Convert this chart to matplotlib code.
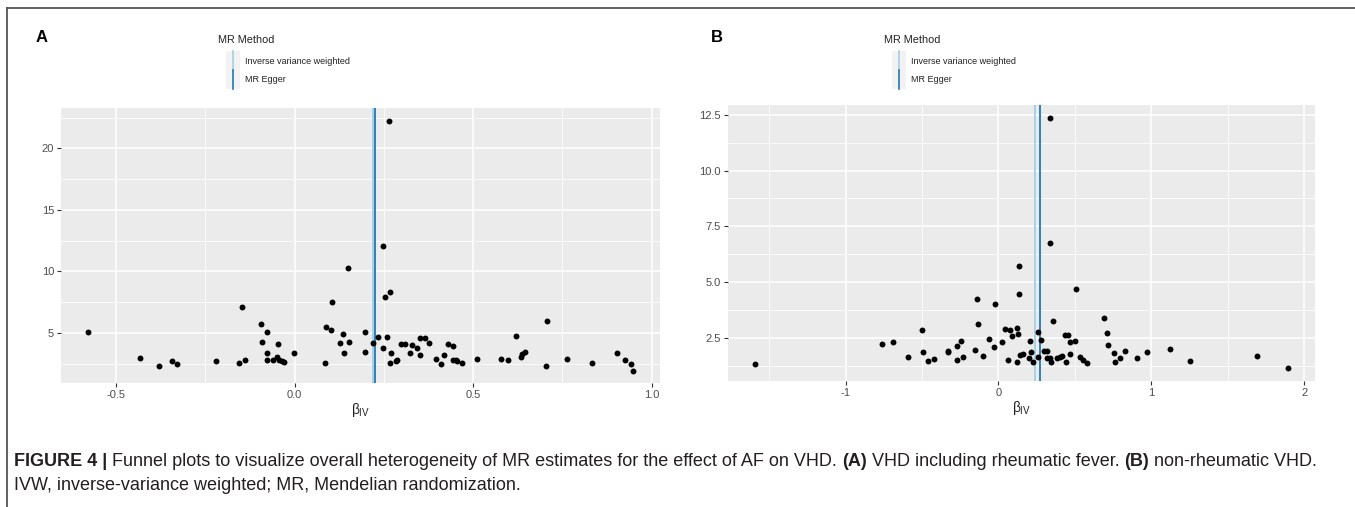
import matplotlib
matplotlib.use("Agg")
import matplotlib.pyplot as plt
from matplotlib.patches import Rectangle
from matplotlib.lines import Line2D

plt.rcParams['font.family'] = ['Liberation Sans', 'DejaVu Sans']
plt.rcParams['mathtext.fontset'] = 'custom'
plt.rcParams['mathtext.rm'] = 'Liberation Sans'
plt.rcParams['mathtext.it'] = 'Liberation Sans'

# panel A: VHD including rheumatic fever
beta_a = [-0.578, -0.434, -0.381, -0.344, -0.329, -0.220, -0.155, -0.147, -0.138, -0.095,
          -0.090, -0.076, -0.077, -0.076, -0.061, -0.046, -0.049, -0.045, -0.035, -0.029,
          -0.001, 0.087, 0.086, 0.103, 0.106, 0.127, 0.136, 0.139, 0.152, 0.196,
          0.196, 0.220, 0.233, 0.247, 0.260, 0.267, 0.271, 0.284, 0.287, 0.297,
          0.308, 0.324, 0.330, 0.342, 0.350, 0.351, 0.366, 0.375, 0.396, 0.410,
          0.418, 0.429, 0.443, 0.444, 0.452, 0.455, 0.469, 0.510, 0.579, 0.598,
          0.620, 0.633, 0.637, 0.644, 0.704, 0.708, 0.762, 0.834, 0.903, 0.925,
          0.943, 0.947, 0.265, 0.247, 0.149, 0.252, 0.268]
prec_a = [5.05, 2.96, 2.29, 2.69, 2.47, 2.72, 2.58, 7.07, 2.77, 5.73,
          4.22, 5.08, 3.33, 2.82, 2.77, 4.11, 3.04, 2.80, 2.74, 2.61,
          3.33, 5.51, 2.58, 5.22, 7.50, 4.14, 4.89, 3.33, 4.27, 5.03,
          3.47, 4.17, 4.70, 3.74, 4.70, 2.53, 3.39, 2.69, 2.77, 4.11,
          4.11, 3.33, 3.98, 3.79, 4.57, 3.20, 4.57, 4.17, 2.90, 2.50,
          3.20, 4.11, 3.90, 2.80, 2.80, 2.72, 2.53, 2.90, 2.90, 2.77,
          4.78, 3.06, 3.25, 3.47, 2.34, 6.00, 2.88, 2.53, 3.33, 2.77,
          2.50, 1.94, 22.26, 12.04, 10.24, 7.93, 8.28]
ivw_a, egger_a = 0.220, 0.224

# panel B: non-rheumatic VHD
beta_b = [-1.594, -0.763, -0.687, -0.589, -0.499, -0.490, -0.462, -0.423, -0.332, -0.330,
          -0.268, -0.270, -0.245, -0.234, -0.152, -0.135, -0.104, -0.059, -0.031, -0.022,
          0.025, 0.045, 0.062, 0.076, 0.090, 0.124, 0.127, 0.121, 0.138, 0.158,
          0.208, 0.214, 0.200, 0.223, 0.256, 0.256, 0.276, 0.296, 0.315, 0.321,
          0.338, 0.344, 0.358, 0.380, 0.406, 0.414, 0.434, 0.442, 0.454, 0.465,
          0.468, 0.504, 0.535, 0.555, 0.580, 0.693, 0.710, 0.718, 0.758, 0.761,
          0.792, 0.825, 0.904, 0.972, 1.124, 1.251, 1.690, 1.896, -0.140, 0.132,
          0.136, 0.340, 0.340, 0.509]
prec_b = [1.34, 2.25, 2.35, 1.64, 2.87, 1.90, 1.49, 1.58, 1.87, 1.93,
          2.16, 1.52, 2.37, 1.64, 1.99, 3.13, 1.71, 2.47, 2.13, 4.03,
          2.35, 2.90, 1.53, 2.87, 2.62, 2.98, 2.69, 1.43, 1.73, 1.80,
          2.38, 1.90, 1.62, 1.46, 2.80, 1.64, 2.41, 1.93, 1.93, 1.61,
          1.62, 1.43, 3.26, 1.61, 1.64, 1.70, 2.66, 1.46, 2.65, 2.35,
          1.80, 2.37, 1.64, 1.53, 1.40, 3.42, 2.75, 2.22, 1.86, 1.46,
          1.62, 1.92, 1.62, 1.90, 2.02, 1.49, 1.70, 1.15, 4.24, 4.50,
          5.73, 12.37, 6.77, 4.69]
ivw_b, egger_b = 0.242, 0.271

xticks_a = [-0.5, 0.0, 0.5, 1.0]
xlabels_a = ["-0.5", "0.0", "0.5", "1.0"]
yticks_a = [5, 10, 15, 20]
ylabels_a = ["5", "10", "15", "20"]
xticks_b = [-1, 0, 1, 2]
xlabels_b = ["-1", "0", "1", "2"]
yticks_b = [2.5, 5.0, 7.5, 10.0, 12.5]
ylabels_b = ["2.5", "5.0", "7.5", "10.0", "12.5"]

methods = ["Inverse variance weighted", "MR Egger"]
method_colors = ["#a6cee3", "#1f78b4"]

W, H = 1355, 507
fig = plt.figure(figsize=(W / 100, H / 100), dpi=100)


def px(x, y):
    return x / W, 1 - y / H


def funnel(rect, beta, prec, ivw, egger, xt, xl, yt, yl):
    l, t, r, b = rect
    ax = fig.add_axes([l / W, 1 - b / H, (r - l) / W, (b - t) / H])
    ax.set_facecolor("#EBEBEB")
    for s in ax.spines.values():
        s.set_visible(False)
    ax.scatter(beta, prec, s=18, color="black", zorder=3, linewidths=0)
    ax.margins(x=0.05, y=0.05)
    xlim, ylim = ax.get_xlim(), ax.get_ylim()
    ax.axvline(ivw, color=method_colors[0], lw=1.3, zorder=2)
    ax.axvline(egger, color=method_colors[1], lw=1.3, zorder=2)
    ax.set_xticks(xt)
    ax.set_xticklabels(xl)
    ax.set_yticks(yt)
    ax.set_yticklabels(yl)
    mx = [(a + b2) / 2 for a, b2 in zip(xt[:-1], xt[1:])]
    mx = [xt[0] - (xt[1] - xt[0]) / 2] + mx + [xt[-1] + (xt[1] - xt[0]) / 2]
    my = [(a + b2) / 2 for a, b2 in zip(yt[:-1], yt[1:])]
    my = [yt[0] - (yt[1] - yt[0]) / 2] + my + [yt[-1] + (yt[1] - yt[0]) / 2]
    ax.set_xticks(mx, minor=True)
    ax.set_yticks(my, minor=True)
    ax.set_xlim(xlim)
    ax.set_ylim(ylim)
    ax.tick_params(which="minor", length=0)
    ax.tick_params(which="major", length=3, width=0.8, color="#333333",
                   labelsize=8, labelcolor="#4D4D4D", pad=2)
    ax.grid(which="major", color="white", lw=1.1)
    ax.grid(which="minor", color="white", lw=0.55)
    ax.set_axisbelow(True)
    ax.set_xlabel(r"$\beta_{\mathrm{IV}}$", fontsize=10, color="#222222", labelpad=1)
    return ax


funnel((61, 108, 660, 383), beta_a, prec_a, ivw_a, egger_a,
       xticks_a, xlabels_a, yticks_a, ylabels_a)
funnel((728, 105, 1315, 381), beta_b, prec_b, ivw_b, egger_b,
       xticks_b, xlabels_b, yticks_b, ylabels_b)

# frame lines
fig.add_artist(Line2D([7 / W, 1], [1 - 8 / H, 1 - 8 / H], color="#555555", lw=1.3))
fig.add_artist(Line2D([7 / W, 7 / W], [0, 1 - 8 / H], color="#555555", lw=1.3))

# panel letters
fig.text(*px(36, 37), "A", fontsize=12, fontweight="bold", va="center", ha="left")
fig.text(*px(711, 37), "B", fontsize=12, fontweight="bold", va="center", ha="left")


def legend(x0):
    fig.text(*px(x0 - 8, 40), "MR Method", fontsize=7.8, color="#222222", va="center")
    for i, (m, c) in enumerate(zip(methods, method_colors)):
        top = 51 + i * 19
        bl = px(x0, top + 19)
        fig.add_artist(Rectangle(bl, 14 / W, 19 / H, transform=fig.transFigure,
                                 facecolor="#F2F2F2", edgecolor="none"))
        xc = (x0 + 7) / W
        fig.add_artist(Line2D([xc, xc], [1 - (top + 19) / H, 1 - top / H], color=c, lw=1.2))
        fig.text(*px(x0 + 19, top + 10), m, fontsize=6.5, color="#222222", va="center")


legend(226)
legend(892)

# caption
fig.canvas.draw()
renderer = fig.canvas.get_renderer()
cap_size = 13.0


def caption_line(x, y, segments):
    t1 = fig.text(0, 0, "a a", fontsize=cap_size)
    t2 = fig.text(0, 0, "aa", fontsize=cap_size)
    space = t1.get_window_extent(renderer).width - t2.get_window_extent(renderer).width
    t1.remove()
    t2.remove()
    cur = x
    for txt, bold in segments:
        t = fig.text(cur / W, 1 - y / H, txt, fontsize=cap_size, va="center", ha="left",
                     color="#231F20", fontweight="bold" if bold else "normal")
        cur += t.get_window_extent(renderer).width + space


caption_line(14, 462, [("FIGURE 4 |", True),
                       ("Funnel plots to visualize overall heterogeneity of MR estimates for the effect of AF on VHD.", False),
                       ("(A)", True), ("VHD including rheumatic fever.", False),
                       ("(B)", True), ("non-rheumatic VHD.", False)])
caption_line(14, 485, [("IVW, inverse-variance weighted; MR, Mendelian randomization.", False)])

fig.savefig("out.png", dpi=100, facecolor="white")
